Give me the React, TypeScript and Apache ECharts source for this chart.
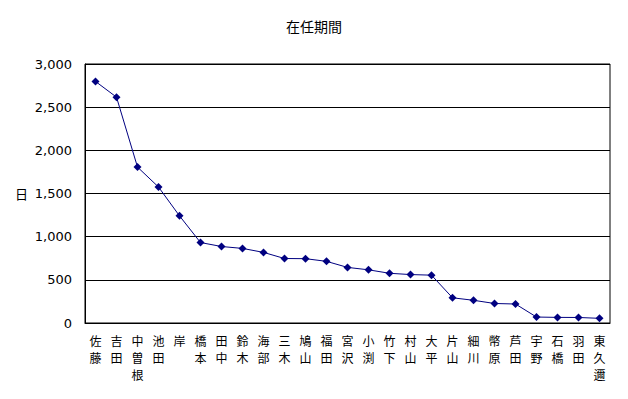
import React, { useEffect, useRef } from "react";
import * as echarts from "echarts";

const names = [
  "佐藤", "吉田", "中曽根", "池田", "岸", "橋本", "田中", "鈴木", "海部", "三木",
  "鳩山", "福田", "宮沢", "小渕", "竹下", "村山", "大平", "片山", "細川", "幣原",
  "芦田", "宇野", "石橋", "羽田", "東久邇",
];
const days = [
  2798, 2616, 1806, 1575, 1241, 932, 886, 864, 818, 747,
  745, 714, 644, 616, 576, 561, 554, 292, 263, 226,
  220, 69, 65, 64, 54,
];
const yTicks = [0, 500, 1000, 1500, 2000, 2500, 3000];
const titleText = "在任期間";
const yName = "日";

export default function App() {
  const ref = useRef<HTMLDivElement>(null);
  useEffect(() => {
    document.body.style.margin = "0";
    const chart = echarts.init(ref.current!, null, { renderer: "svg" });
    const font = "'Noto Sans CJK JP', 'DejaVu Sans', sans-serif";
    chart.setOption({
      animation: false,
      backgroundColor: "#ffffff",
      title: {
        text: titleText,
        left: "center",
        top: 14,
        textStyle: { fontSize: 14, fontWeight: "normal", color: "#000", fontFamily: font },
      },
      grid: {
        left: 85, right: 18, top: 64, bottom: 76,
        show: true, borderColor: "#000", borderWidth: 1, backgroundColor: "transparent",
      },
      xAxis: {
        type: "category",
        data: names.map((n) => n.split("").join("\n")),
        boundaryGap: true,
        axisLine: { lineStyle: { color: "#000", width: 1 } },
        axisTick: { inside: true, length: 4, lineStyle: { color: "#000" } },
        axisLabel: {
          interval: 0, color: "#000", fontSize: 12, lineHeight: 17, margin: 9,
          fontFamily: font,
        },
      },
      yAxis: {
        type: "value",
        min: yTicks[0],
        max: yTicks[yTicks.length - 1],
        interval: 500,
        name: yName,
        nameLocation: "middle",
        nameRotate: 0,
        nameGap: 57,
        nameTextStyle: { color: "#000", fontSize: 13, fontFamily: font },
        axisLine: { show: true, lineStyle: { color: "#000" } },
        axisTick: { show: false },
        splitLine: { show: true, lineStyle: { color: "#000", width: 1 } },
        axisLabel: {
          color: "#000", fontSize: 13, margin: 13, fontFamily: "'DejaVu Sans', sans-serif",
          formatter: (v: number) => v.toLocaleString("en-US"),
        },
      },
      series: [
        {
          type: "line",
          data: days,
          symbol: "diamond",
          symbolSize: 8,
          itemStyle: { color: "#000080" },
          lineStyle: { color: "#000080", width: 1 },
        },
      ],
    });
    return () => chart.dispose();
  }, []);
  return <div ref={ref} style={{ width: 628, height: 399, position: "absolute", left: 0, top: 0 }} />;
}
